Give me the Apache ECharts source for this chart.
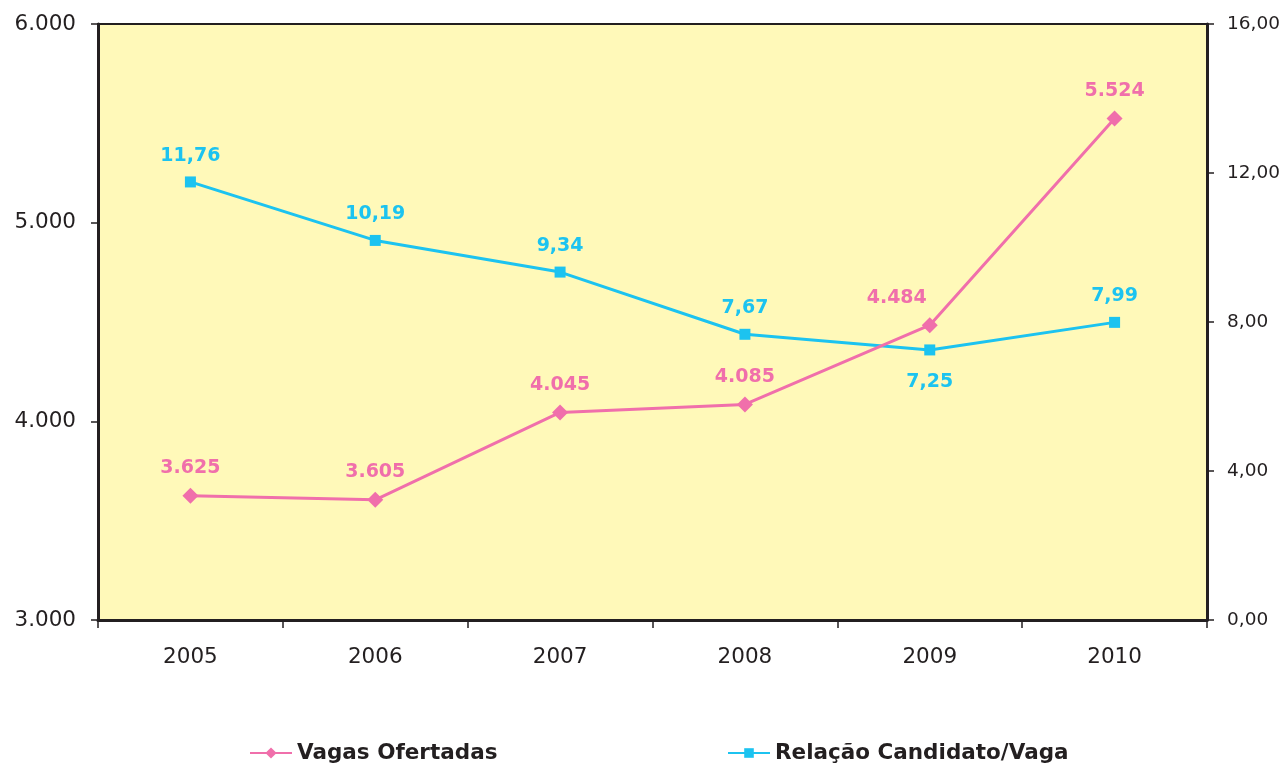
<!DOCTYPE html>
<html>
<head>
<meta charset="utf-8">
<script src="https://cdn.jsdelivr.net/npm/echarts@6/dist/echarts.min.js"></script>
<style>
  html, body { margin: 0; padding: 0; background: #fff; }
  #chart { width: 1285px; height: 765px; }
</style>
</head>
<body>
<div id="chart"></div>
<script>
// dados
var anos = ['2005', '2006', '2007', '2008', '2009', '2010'];
var vagas = [3625, 3605, 4045, 4085, 4484, 5524];
var relacao = [11.76, 10.19, 9.34, 7.67, 7.25, 7.99];

var pink = '#f06fab';
var cyan = '#1cc3f0';
var dark = '#231f20';

function milhar(v) {
    return String(v).replace(/\B(?=(\d{3})+(?!\d))/g, '.');
}
function decimal(v) {
    return v.toFixed(2).replace('.', ',');
}

var chart = echarts.init(document.getElementById('chart'));
chart.setOption({
    animation: false,
    textStyle: { fontFamily: 'DejaVu Sans' },
    grid: {
        left: 98, right: 78, top: 24, bottom: 145,
        show: true,
        backgroundColor: '#fff9b9',
        borderColor: dark,
        borderWidth: 2
    },
    legend: [
        {
            data: ['Vagas Ofertadas'],
            left: 249, top: 742, padding: 0,
            itemWidth: 42, itemHeight: 14, itemGap: 4,
            textStyle: { fontSize: 21.5, fontWeight: 'bold', color: dark, fontFamily: 'DejaVu Sans' }
        },
        {
            data: ['Relação Candidato/Vaga'],
            left: 727, top: 742, padding: 0,
            itemWidth: 42, itemHeight: 12,
            textStyle: { fontSize: 21.5, fontWeight: 'bold', color: dark, fontFamily: 'DejaVu Sans' }
        }
    ],
    xAxis: {
        type: 'category',
        data: anos,
        boundaryGap: true,
        axisLine: { lineStyle: { color: dark, width: 3 } },
        axisTick: { show: true, length: 8, lineStyle: { color: dark, width: 1.5 } },
        axisLabel: { fontSize: 21.5, color: dark, margin: 26 }
    },
    yAxis: [
        {
            type: 'value',
            min: 3000, max: 6000, interval: 1000,
            splitLine: { show: false },
            axisLine: { show: true, lineStyle: { color: dark, width: 3 } },
            axisTick: { show: true, length: 7, lineStyle: { color: dark, width: 1.5 } },
            axisLabel: { fontSize: 21.5, color: dark, margin: 22, formatter: milhar }
        },
        {
            type: 'value',
            min: 0, max: 16, interval: 4,
            splitLine: { show: false },
            axisLine: { show: true, lineStyle: { color: dark, width: 3 } },
            axisTick: { show: true, length: 7, lineStyle: { color: dark, width: 1.5 } },
            axisLabel: { fontSize: 18.5, color: dark, margin: 20, formatter: decimal }
        }
    ],
    series: [
        {
            name: 'Vagas Ofertadas',
            type: 'line',
            yAxisIndex: 0,
            data: vagas.map(function (v, i) {
                var item = { value: v };
                if (i === 4) item.label = { offset: [-33, 0] };
                return item;
            }),
            color: pink,
            symbol: 'diamond',
            symbolSize: 16,
            lineStyle: { width: 3, color: pink },
            itemStyle: { color: pink },
            label: {
                show: true, position: 'top', distance: 10,
                color: pink, fontSize: 19, fontWeight: 'bold',
                formatter: function (p) { return milhar(p.value); }
            },
            z: 3
        },
        {
            name: 'Relação Candidato/Vaga',
            type: 'line',
            yAxisIndex: 1,
            data: relacao.map(function (v, i) {
                var item = { value: v };
                if (i === 4) item.label = { position: 'bottom', distance: 17 };
                return item;
            }),
            color: cyan,
            symbol: 'rect',
            symbolSize: 11,
            lineStyle: { width: 3, color: cyan },
            itemStyle: { color: cyan },
            label: {
                show: true, position: 'top', distance: 11,
                color: cyan, fontSize: 19, fontWeight: 'bold',
                formatter: function (p) { return decimal(p.value); }
            },
            z: 2
        }
    ]
});
</script>
</body>
</html>
